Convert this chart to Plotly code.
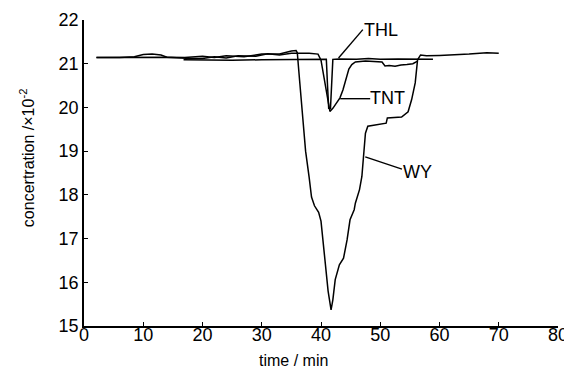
import plotly.graph_objects as go

# ---- data (time in min, concentration in 1e-2 units) ----
wy_t = [2.1, 8, 14, 17, 20, 22, 24, 27, 30, 33, 35, 35.8, 36.0, 36.4, 36.9, 37.4, 38.0, 38.4, 38.9, 39.6,
        40.0, 40.3, 40.7, 41.2, 41.7, 42.0, 42.4, 43.1, 43.8, 44.4, 44.9, 45.6, 45.8, 46.5, 46.9, 47.2,
        47.5, 47.9, 49.0, 51.0, 51.2, 53.6, 54.7, 55.3, 55.9, 56.3, 56.8, 57.8, 60, 63, 65, 68, 70]
wy_v = [21.14, 21.15, 21.15, 21.14, 21.17, 21.14, 21.18, 21.16, 21.22, 21.22, 21.29, 21.3, 21.25, 20.6, 19.8,
        19.0, 18.4, 17.95, 17.75, 17.6, 17.4, 17.0, 16.3, 15.8, 15.37, 15.6, 16.06, 16.4, 16.55, 16.97,
        17.43, 17.66, 17.81, 18.12, 18.42, 18.88, 19.41, 19.57, 19.6, 19.64, 19.76, 19.78, 19.9, 20.18,
        20.56, 21.09, 21.2, 21.18, 21.19, 21.2, 21.22, 21.25, 21.24]

tnt_t = [2.1, 6, 8.5, 10, 11.5, 13, 14, 16, 18, 20, 22, 24, 26, 29, 31, 33, 35, 38, 39.5, 40.0, 40.6, 41.1,
         41.5, 42.0, 42.6, 43.2, 43.7, 44.1, 44.7, 45.2, 45.8, 47.5, 49, 50.3, 50.8, 51.5, 52.5, 53.5,
         54.5, 55.5, 56.3]
tnt_v = [21.14, 21.14, 21.16, 21.21, 21.22, 21.2, 21.15, 21.13, 21.12, 21.12, 21.16, 21.13, 21.18, 21.17,
         21.23, 21.2, 21.24, 21.24, 21.22, 21.08, 20.6, 20.2, 19.91, 19.98, 20.1, 20.22, 20.4, 20.6, 20.88,
         20.98, 21.04, 21.06, 21.05, 21.04, 20.95, 20.96, 20.94, 20.97, 20.98, 21.0, 21.06]

thl_t = [16.8, 20, 25, 30, 35, 40, 40.9, 41.1, 41.3, 41.6, 41.8, 42.0, 43, 46, 48, 50, 53, 56, 58.9]
thl_v = [21.09, 21.08, 21.08, 21.09, 21.1, 21.1, 21.1, 20.5, 19.98, 19.98, 20.6, 21.1, 21.11, 21.1,
         21.12, 21.1, 21.11, 21.1, 21.1]

labels = ["THL", "TNT", "WY"]
# label text positions and leader line ends (data coords)
label_xy = [(50.05, 21.77), (51.2, 20.22), (56.25, 18.53)]
leader_start = [(42.96, 21.13), (43.24, 20.2), (47.47, 18.87)]
leader_end = [(47.06, 21.78), (48.3, 20.2), (53.67, 18.59)]

x_ticks = [0, 10, 20, 30, 40, 50, 60, 70, 80]
y_ticks = [15, 16, 17, 18, 19, 20, 21, 22]
x_title = "time / min"
y_title = "concertration /×10<sup>-2</sup>"

FONT = "Liberation Sans Narrow, Arial Narrow, Liberation Sans, Arial, sans-serif"

fig = go.Figure()
for tt, vv in [(wy_t, wy_v), (tnt_t, tnt_v), (thl_t, thl_v)]:
    fig.add_trace(go.Scatter(x=tt, y=vv, mode="lines",
                             line=dict(color="black", width=1.5), hoverinfo="skip"))

for (x0, y0), (x1, y1) in zip(leader_start, leader_end):
    fig.add_trace(go.Scatter(x=[x0, x1], y=[y0, y1], mode="lines",
                             line=dict(color="black", width=1.4), hoverinfo="skip"))

for lab, (lx, ly) in zip(labels, label_xy):
    fig.add_annotation(x=lx, y=ly, text=lab, showarrow=False,
                       font=dict(family=FONT, size=18, color="black"))

# axis titles as annotations (placed like the reference)
fig.add_annotation(xref="paper", yref="paper", x=0.441, y=-0.114, text=x_title,
                   xanchor="center", yanchor="middle",
                   showarrow=False, font=dict(family=FONT, size=16, color="black"))
fig.add_annotation(xref="paper", yref="paper", x=-0.12, y=0.549, text=y_title, textangle=-90,
                   xanchor="center", yanchor="middle",
                   showarrow=False, font=dict(family=FONT, size=16, color="black"))

fig.update_layout(
    width=564, height=369,
    margin=dict(l=84, r=6, t=20, b=43),
    paper_bgcolor="white", plot_bgcolor="white",
    showlegend=False,
    font=dict(family=FONT, color="black"),
)
fig.update_xaxes(range=[0, 80], tickvals=x_ticks, ticks="inside", ticklen=4, tickwidth=1.3,
                 tickcolor="black", showline=True, linecolor="black", linewidth=1.5,
                 showgrid=False, zeroline=False, tickfont=dict(size=18),
                 ticklabeloverflow="allow", automargin=False, ticklabelstandoff=-8)
fig.update_yaxes(range=[15, 22], tickvals=y_ticks, ticks="inside", ticklen=4, tickwidth=1.3,
                 tickcolor="black", showline=True, linecolor="black", linewidth=1.5,
                 showgrid=False, zeroline=False, tickfont=dict(size=18), automargin=False)

fig.write_html("out.html")
